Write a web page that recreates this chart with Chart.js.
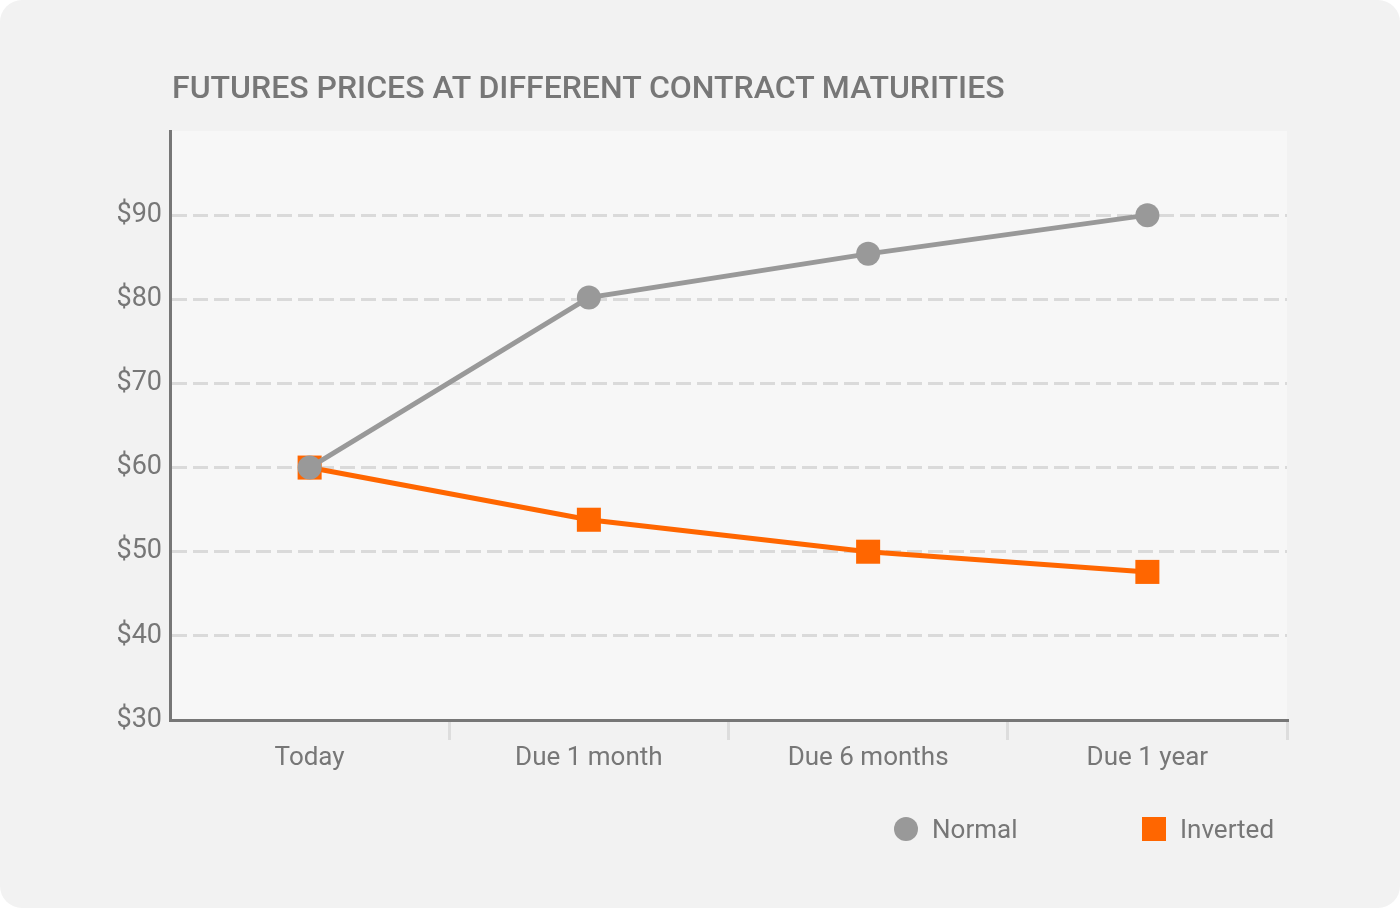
<!DOCTYPE html>
<html>
<head>
<meta charset="utf-8">
<script src="https://cdn.jsdelivr.net/npm/chart.js@4/dist/chart.umd.min.js"></script>
<style>
  html, body { margin: 0; padding: 0; background: #ffffff; }
  #card { position: absolute; left: 0; top: 0; width: 1400px; height: 908px; background: #f2f2f2; border-radius: 22px; overflow: hidden; font-family: Roboto, "Noto Sans", sans-serif; }
  #title { position: absolute; left: 172px; top: 66px; font-size: 32px; font-weight: 500; color: #777777; white-space: nowrap; line-height: 42px; }
  #chartWrap { position: absolute; left: 0; top: 0; width: 1400px; height: 908px; }
  #legend { position: absolute; top: 812px; left: 0; width: 1400px; height: 34px; font-size: 26px; color: #777777; }
  .item { position: absolute; top: 0; height: 34px; line-height: 34px; white-space: nowrap; }
  .sw { position: absolute; top: 5px; width: 24px; height: 24px; }
</style>
</head>
<body>
<div id="card">
  <div id="chartWrap"><canvas id="c" width="1400" height="908"></canvas></div>
  <div id="title"></div>
  <div id="legend"></div>
</div>
<script>
const titleText = "FUTURES PRICES AT DIFFERENT CONTRACT MATURITIES";
const categories = ["Today", "Due 1 month", "Due 6 months", "Due 1 year"];
const normalValues = [60, 80.2, 85.4, 90];
const invertedValues = [60, 53.8, 50, 47.6];
const seriesNames = ["Normal", "Inverted"];
const yTicks = [30, 40, 50, 60, 70, 80, 90, 100];
const yLabelsShown = [30, 40, 50, 60, 70, 80, 90];

const GRAY = "#999999";
const ORANGE = "#ff6600";
const TEXT = "#777777";

document.getElementById("title").textContent = titleText;

const plotBg = {
  id: "plotBg",
  beforeDraw(chart) {
    const a = chart.chartArea, ctx = chart.ctx;
    ctx.save();
    ctx.fillStyle = "#f7f7f7";
    ctx.fillRect(a.left, a.top, a.right - a.left, a.bottom - a.top);
    ctx.restore();
  }
};

const chart = new Chart(document.getElementById("c"), {
  type: "line",
  data: {
    labels: categories,
    datasets: [
      {
        label: seriesNames[0],
        data: normalValues,
        borderColor: GRAY,
        backgroundColor: GRAY,
        borderWidth: 5,
        pointStyle: "circle",
        pointRadius: 12,
        pointHoverRadius: 12,
        pointBorderWidth: 0,
        pointBackgroundColor: GRAY,
        tension: 0
      },
      {
        label: seriesNames[1],
        data: invertedValues,
        borderColor: ORANGE,
        backgroundColor: ORANGE,
        borderWidth: 5,
        pointStyle: "rect",
        pointRadius: 17,
        pointHoverRadius: 17,
        pointBorderWidth: 0,
        pointBackgroundColor: ORANGE,
        tension: 0
      }
    ]
  },
  options: {
    responsive: false,
    animation: false,
    devicePixelRatio: 1,
    layout: { padding: { top: 131, right: 113, left: 0, bottom: 128 } },
    plugins: {
      legend: { display: false },
      title: { display: false },
      tooltip: { enabled: false }
    },
    scales: {
      x: {
        type: "category",
        offset: true,
        grid: {
          offset: true,
          drawOnChartArea: false,
          drawTicks: true,
          tickLength: 20,
          color: (ctx) => (ctx.index === 0) ? "rgba(0,0,0,0)" : "#dddddd",
          lineWidth: 3
        },
        border: { display: true, color: "#777777", width: 3 },
        ticks: {
          color: TEXT,
          font: { family: "Roboto", size: 26 },
          padding: 3
        },
        afterFit(scale) { scale.height = 60; }
      },
      y: {
        type: "linear",
        min: 30,
        max: 100,
        afterBuildTicks(scale) { scale.ticks = yTicks.map(v => ({ value: v })); },
        grid: {
          drawTicks: false,
          color: (ctx) => (ctx.tick && (ctx.tick.value === 100 || ctx.tick.value === 30)) ? "rgba(0,0,0,0)" : "#dadada",
          lineWidth: 3
        },
        border: { display: true, color: "#777777", width: 3, dash: [15, 6] },
        ticks: {
          color: TEXT,
          font: { family: "Roboto", size: 27 },
          padding: 8,
          callback: (v) => yLabelsShown.includes(v) ? "$" + v : ""
        },
        afterFit(scale) { scale.width = 170; }
      }
    }
  },
  plugins: [plotBg]
});

// Legend built from the chart's datasets
const legend = document.getElementById("legend");
const legendPos = [ {sw: 894, txt: 932}, {sw: 1142, txt: 1180} ];
chart.data.datasets.forEach((ds, i) => {
  const sw = document.createElement("div");
  sw.className = "sw";
  sw.style.left = legendPos[i].sw + "px";
  sw.style.background = ds.pointBackgroundColor;
  if (ds.pointStyle === "circle") sw.style.borderRadius = "50%";
  legend.appendChild(sw);
  const t = document.createElement("div");
  t.className = "item";
  t.style.left = legendPos[i].txt + "px";
  t.textContent = ds.label;
  legend.appendChild(t);
});
</script>
</body>
</html>
